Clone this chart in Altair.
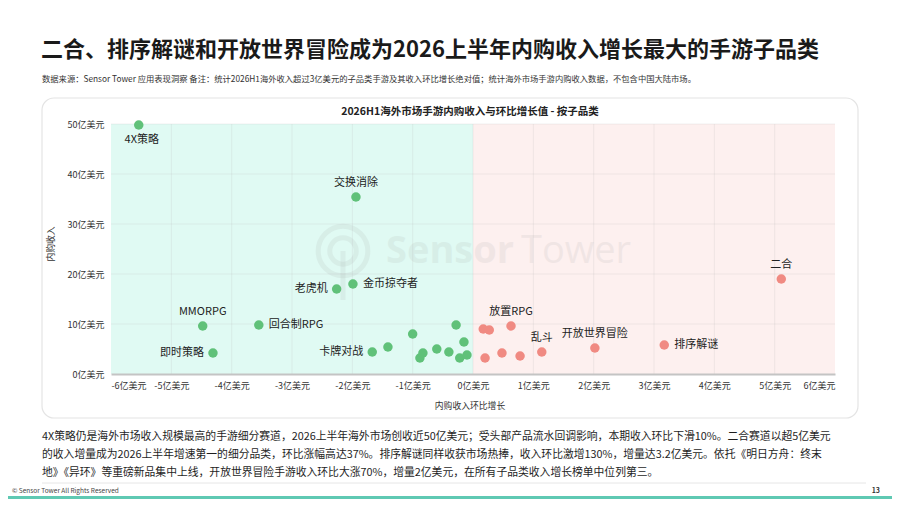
import altair as alt
import pandas as pd

# ---------------- data ----------------
categories = ["4X策略", "交换消除", "老虎机", "金币掠夺者", "MMORPG", "回合制RPG", "即时策略", "卡牌对战",
              "", "", "", "", "", "", "", "", "", "",
              "", "", "放置RPG", "", "", "", "乱斗", "开放世界冒险", "排序解谜", "二合"]
growth = [-5.54, -1.94, -2.26, -1.99, -4.48, -3.55, -4.31, -1.67,
          -1.41, -1.00, -0.88, -0.83, -0.60, -0.40, -0.28, -0.22, -0.15, -0.10,
          0.17, 0.27, 0.63, 0.20, 0.48, 0.78, 1.14, 2.02, 3.17, 5.11]
revenue = [49.8, 35.4, 17.0, 18.0, 9.6, 9.8, 4.2, 4.4,
           5.4, 8.0, 3.2, 4.2, 5.0, 4.4, 9.8, 3.2, 6.4, 3.8,
           9.0, 8.8, 9.6, 3.2, 4.2, 3.6, 4.4, 5.2, 5.8, 19.0]
x_ticks = [-6, -5, -4, -3, -2, -1, 0, 1, 2, 3, 4, 5, 6]
y_ticks = [0, 10, 20, 30, 40, 50]
zones = ["下降", "增长"]
zone_start = [-6, 0]
zone_end = [0, 6]

title_text = "二合、排序解谜和开放世界冒险成为2026上半年内购收入增长最大的手游子品类"
subtitle_text = ("数据来源：Sensor Tower 应用表现洞察  备注：统计2026H1海外收入超过3亿美元的子品类手游及其收入环比增长绝对值；"
                 "统计海外市场手游内购收入数据，不包含中国大陆市场。")
chart_title = "2026H1海外市场手游内购收入与环比增长值 - 按子品类"
x_title = "内购收入环比增长"
y_title = "内购收入"
paragraph = [
    "4X策略仍是海外市场收入规模最高的手游细分赛道，2026上半年海外市场创收近50亿美元；受头部产品流水回调影响，本期收入环比下滑10%。二合赛道以超5亿美元",
    "的收入增量成为2026上半年增速第一的细分品类，环比涨幅高达37%。排序解谜同样收获市场热捧，收入环比激增130%，增量达3.2亿美元。依托《明日方舟：终末",
    "地》《异环》等重磅新品集中上线，开放世界冒险手游收入环比大涨70%，增量2亿美元，在所有子品类收入增长榜单中位列第三。",
]
footer_text = "© Sensor Tower All Rights Reserved"
page_no = "13"

# ---------------- styling ----------------
FONT = "Noto Sans CJK SC"
GREEN = "#60c179"
RED = "#f08a82"
W, H = 724, 250
OX, OY = 111, 124          # page position of the plot origin


def px(v):
    return v - OX


def py(v):
    return v - OY


above = ["交换消除", "MMORPG", "放置RPG", "乱斗", "开放世界冒险", "二合"]
below = ["4X策略"]
left = ["老虎机", "即时策略", "卡牌对战"]
right = ["金币掠夺者", "回合制RPG", "排序解谜"]

df = pd.DataFrame({"name": categories, "growth": growth, "revenue": revenue})
xs = alt.Scale(domain=[-6, 6], nice=False, zero=False)
ys = alt.Scale(domain=[0, 50], nice=False, zero=False)


def one(t=""):
    return pd.DataFrame({"t": [t]})


def text_at(t, x, y, size, weight="normal", align="left", color="#222", angle=0, font=FONT, opacity=1.0):
    return alt.Chart(one(t)).mark_text(
        align=align, baseline="middle", fontSize=size, fontWeight=weight,
        color=color, font=font, angle=angle, opacity=opacity
    ).encode(x=alt.value(px(x)), y=alt.value(py(y)), text="t:N")


card = alt.Chart(one()).mark_rect(
    fill="white", stroke="#e4e4e4", strokeWidth=1.2, cornerRadius=12
).encode(x=alt.value(px(42)), x2=alt.value(px(858)), y=alt.value(py(98)), y2=alt.value(py(418)))

zone_df = pd.DataFrame({"zone": zones, "x0": zone_start, "x1": zone_end, "y0": [0, 0], "y1": [50, 50]})
bg = alt.Chart(zone_df).mark_rect().encode(
    x=alt.X("x0:Q", scale=xs,
            axis=alt.Axis(values=x_ticks, labelExpr="datum.value + '亿美元'", title=None,
                          grid=False, ticks=False, domainColor="#c4c4c4", domainWidth=2,
                          labelFontSize=9, labelColor="#333", labelPadding=7, labelFont=FONT,
                          zindex=1)),
    x2="x1:Q",
    y=alt.Y("y0:Q", scale=ys,
            axis=alt.Axis(values=y_ticks, labelExpr="datum.value + '亿美元'", title=None,
                          grid=False, ticks=False, domain=False,
                          labelFontSize=9, labelColor="#333", labelPadding=7, labelFont=FONT,
                          zindex=1)),
    y2="y1:Q",
    color=alt.Color("zone:N", scale=alt.Scale(domain=zones, range=["#e0faf3", "#fdf0ef"]), legend=None),
)

grid_v = alt.Chart(pd.DataFrame({"v": x_ticks[1:-1]})).mark_rule(
    color="#b8b8b8", opacity=0.2, strokeWidth=1
).encode(x=alt.X("v:Q", scale=xs))
grid_h = alt.Chart(pd.DataFrame({"v": y_ticks[1:]})).mark_rule(
    color="#b8b8b8", opacity=0.2, strokeWidth=1
).encode(y=alt.Y("v:Q", scale=ys))

# faint watermark
wm_color = "#9a9a9a"
wm_op = 0.12
wm_ring = alt.Chart(one()).mark_point(
    shape="circle", filled=False, size=2460, strokeWidth=5, color=wm_color, opacity=wm_op
).encode(x=alt.value(px(343)), y=alt.value(py(251)))
wm_ring2 = alt.Chart(one()).mark_point(
    shape="circle", filled=False, size=700, strokeWidth=5, color=wm_color, opacity=wm_op
).encode(x=alt.value(px(343)), y=alt.value(py(251)))
wm_stem = alt.Chart(one()).mark_rule(strokeWidth=5, color=wm_color, opacity=wm_op).encode(
    x=alt.value(px(343)), y=alt.value(py(251)), y2=alt.value(py(300)))
wm1 = text_at("Sensor", 386, 252, 38, weight="bold", color=wm_color, font="Open Sans", opacity=wm_op)
wm2 = text_at("Tower", 521, 252, 38, weight="normal", color=wm_color, font="Open Sans", opacity=wm_op)

points = alt.Chart(df).mark_circle(size=90, opacity=1).encode(
    x=alt.X("growth:Q", scale=xs),
    y=alt.Y("revenue:Q", scale=ys),
    color=alt.condition(alt.datum.growth > 0, alt.value(RED), alt.value(GREEN)),
)


def labels(names, **kw):
    return alt.Chart(df).transform_filter(
        alt.FieldOneOfPredicate(field="name", oneOf=names)
    ).mark_text(fontSize=11, color="#222", font=FONT, baseline="middle", **kw).encode(
        x=alt.X("growth:Q", scale=xs), y=alt.Y("revenue:Q", scale=ys), text="name:N")


lab_above = labels(above, align="center", dy=-14)
lab_below = labels(below, align="center", dy=15, dx=3)
lab_left = labels(left, align="right", dx=-9)
lab_right = labels(right, align="left", dx=10)

t_title = text_at(title_text, 41, 50, 22, weight="bold", color="#1a1a1a")
t_sub = text_at(subtitle_text, 42, 80, 8.3, color="#333")
t_ctitle = text_at(chart_title, 470, 112, 10.5, weight="bold", align="center", color="#222")
t_xt = text_at(x_title, 470, 406, 8.8, align="center", color="#333")
t_yt = text_at(y_title, 51, 244, 8.8, align="center", color="#333", angle=270)
t_para = [text_at(line, 42, yy, 10.8, color="#1e1e1e") for line, yy in zip(paragraph, [437, 455, 473])]
sep = alt.Chart(one()).mark_rule(color="#e6e6e6", strokeWidth=1).encode(
    x=alt.value(px(42)), x2=alt.value(px(866)), y=alt.value(py(483)))
t_foot = text_at(footer_text, 12, 491, 6.5, color="#444")
t_page = text_at(page_no, 880, 491, 7, weight="bold", align="right", color="#333")
bar = alt.Chart(one()).mark_rect(color="#5fc9b3").encode(
    x=alt.value(px(8)), x2=alt.value(px(892)), y=alt.value(py(496)), y2=alt.value(py(499)))

chart = alt.layer(
    card, bg, grid_v, grid_h, wm_ring, wm_ring2, wm_stem, wm1, wm2,
    points, lab_above, lab_below, lab_left, lab_right,
    t_title, t_sub, t_ctitle, t_xt, t_yt, *t_para, sep, t_foot, t_page, bar
).properties(
    width=W, height=H,
    autosize=alt.AutoSizeParams(type="none"),
    padding={"left": OX - 8, "top": OY - 8, "right": 892 - OX - W, "bottom": 499 - OY - H},
).configure_view(stroke=None).configure(font=FONT)

chart.save("out.html", embed_options={"renderer": "svg", "actions": False})
